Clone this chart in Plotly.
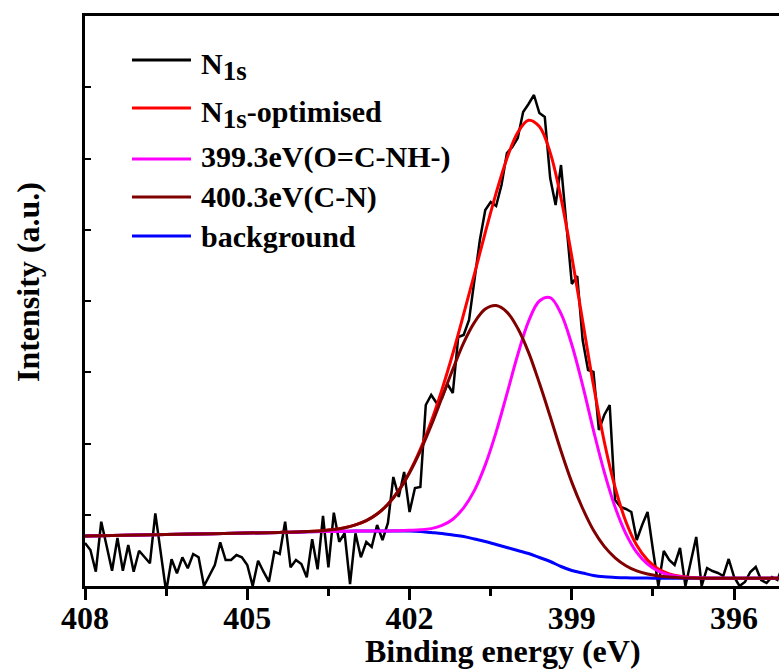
import plotly.graph_objects as go

# ---------------- data ----------------
energy = [
    408.0, 407.9, 407.8, 407.7, 407.6, 407.5, 407.4, 407.3, 407.2, 407.1,
    407.0, 406.9, 406.8, 406.7, 406.6, 406.5, 406.4, 406.3, 406.2, 406.1,
    406.0, 405.9, 405.8, 405.7, 405.6, 405.5, 405.4, 405.3, 405.2, 405.1,
    405.0, 404.9, 404.8, 404.7, 404.6, 404.5, 404.4, 404.3, 404.2, 404.1,
    404.0, 403.9, 403.8, 403.7, 403.6, 403.5, 403.4, 403.3, 403.2, 403.1,
    403.0, 402.9, 402.8, 402.7, 402.6, 402.5, 402.4, 402.3, 402.2, 402.1,
    402.0, 401.9, 401.8, 401.7, 401.6, 401.5, 401.4, 401.3, 401.2, 401.1,
    401.0, 400.9, 400.8, 400.7, 400.6, 400.5, 400.4, 400.3, 400.2, 400.1,
    400.0, 399.9, 399.8, 399.7, 399.6, 399.5, 399.4, 399.3, 399.2, 399.1,
    399.0, 398.9, 398.8, 398.7, 398.6, 398.5, 398.4, 398.3, 398.2, 398.1,
    398.0, 397.9, 397.8, 397.7, 397.6, 397.5, 397.4, 397.3, 397.2, 397.1,
    397.0, 396.9, 396.8, 396.7, 396.6, 396.5, 396.4, 396.3, 396.2, 396.1,
    396.0, 395.9, 395.8, 395.7, 395.6, 395.5, 395.4, 395.3, 395.2, 395.1,
]
n1s = [
    43, 36, 14.3, 64.3, 40, 15.3, 48, 15.3, 41, 14.3,
    35.3, 29, 22.7, 72.7, 34, -5.7, 26.7, 12.7, 28.7, 17.7,
    32, 28.7, 0, 11, 21, 43.7, 26, 26, 31, 28.7,
    21, 0, 25.3, 14.3, 4.3, 34.3, 32, 64.3, 18.7, 26,
    22, 8.7, 46.7, 16.7, 70, 18.7, 73.3, 44.3, 52.7, 2,
    52.7, 28.7, 44, 39, 61, 46, 63, 109, 89, 114,
    74, 98, 99, 181, 191, 183, 188, 202, 193, 249,
    251, 266, 306, 346, 376, 384, 380, 401, 433, 439,
    448, 474, 482, 491, 473, 469, 408, 381, 421, 361,
    302, 310, 246, 216, 214, 156, 171, 181, 86, 79,
    77, 74, 46, 61, 74, 36, 0, 35, 26, 21,
    38, 0, 24, 49, 0, 18, 15, 13, 10, 27,
    9, 0, 4, 14, 19, 6, 3, 9, 6, 20,
]

fit_energy = [408, 407, 406, 405, 404.4, 404, 403.6, 403.4, 403.2, 403.0,
              402.8, 402.6, 402.4, 402.2, 402.0, 401.8, 401.6, 401.4, 401.2, 401.0,
              400.8, 400.6, 400.4, 400.2, 400.0, 399.8, 399.6, 399.4, 399.2, 399.0,
              398.8, 398.6, 398.4, 398.2, 398.0, 397.8, 397.6, 397.4, 397.2, 397.0,
              396.8, 396.6, 396.0, 395.5, 395.0]
n1s_optimised = [50, 51, 52, 53, 53.6, 54.2, 55.3, 56.4, 58.2, 61.1,
                 65.4, 72.0, 81.8, 95.6, 113.9, 136.8, 164.4, 196.6, 232.5, 271.8,
                 312.2, 353.5, 392.8, 427.6, 453.5, 465.8, 459.4, 433.4, 387.9, 329.3,
                 265.1, 200.9, 144.3, 98.5, 64.3, 40.7, 25.9, 17.0, 12.2, 9.7,
                 8.6, 8.0, 7.7, 7.7, 7.7]
peak_399 = [50, 51, 52, 53, 53.6, 54, 54.4, 54.6, 54.8, 55,
            55, 55.0, 55.1, 55.3, 55.7, 56.2, 57.4, 60.6, 66.8, 78.2,
            95.6, 121.1, 153.9, 192.2, 231.3, 264.7, 285.0, 288.4, 272.4, 241.2,
            200.6, 155.7, 113.9, 78.9, 52.2, 33.6, 21.8, 14.8, 11.0, 9.2,
            8.3, 7.9, 7.7, 7.7, 7.7]
peak_400 = [50, 51, 52, 53, 53.6, 54.2, 55.3, 56.4, 58.2, 61.1,
            65.4, 72.0, 81.7, 95.3, 113.2, 135.1, 160.5, 188.5, 216.7, 243.1,
            263.6, 276.9, 280.4, 273.9, 257.7, 233.6, 202.9, 169.5, 135.0, 103.6,
            77.5, 55.7, 39.6, 28.2, 20.3, 15.1, 12.0, 10.0, 8.9, 8.3,
            8.0, 7.8, 7.7, 7.7, 7.7]
background = [50, 51, 52, 53, 53.6, 54, 54.4, 54.6, 54.8, 55,
              55, 55, 55, 55, 55, 54.5, 53.5, 52.5, 51, 49.5,
              47, 44.5, 41.5, 38.5, 35.5, 32.5, 28.5, 24.5, 19.5, 15.5,
              13, 10.5, 9.2, 8.6, 8.2, 8.0, 7.9, 7.8, 7.7, 7.7,
              7.7, 7.7, 7.7, 7.7, 7.7]

x_ticks = [408, 405, 402, 399, 396]
x_minor_ticks = [406.5, 403.5, 400.5, 397.5]
y_ticks = [0, 71.25, 142.5, 213.75, 285, 356.25, 427.5, 498.75, 570]

legend_names = ["N<sub><span style='font-size:27px'>1s</span></sub>",
                "N<sub><span style='font-size:27px'>1s</span></sub>-optimised",
                "399.3eV(O=C-NH-)", "400.3eV(C-N)", "background"]
legend_colors = ["#000000", "#FF0000", "#FF00FF", "#800000", "#0000FF"]

# ---------------- figure ----------------
FONT = "Liberation Serif"
fig = go.Figure()

fig.add_trace(go.Scatter(x=energy, y=n1s, mode="lines", name="N1s",
                         line=dict(color=legend_colors[0], width=2.5)))
fig.add_trace(go.Scatter(x=fit_energy, y=n1s_optimised, mode="lines", name="N1s-optimised",
                         line=dict(color=legend_colors[1], width=3, shape="spline")))
fig.add_trace(go.Scatter(x=fit_energy, y=background, mode="lines", name="background",
                         line=dict(color=legend_colors[4], width=3, shape="spline")))
fig.add_trace(go.Scatter(x=fit_energy, y=peak_399, mode="lines", name="399.3eV(O=C-NH-)",
                         line=dict(color=legend_colors[2], width=3, shape="spline")))
fig.add_trace(go.Scatter(x=fit_energy, y=peak_400, mode="lines", name="400.3eV(C-N)",
                         line=dict(color=legend_colors[3], width=3, shape="spline")))

fig.update_layout(
    width=779, height=670,
    margin=dict(l=85, r=0, t=16, b=84),
    paper_bgcolor="white", plot_bgcolor="white",
    showlegend=False,
)
fig.update_xaxes(
    range=[408, 395.17],
    tickvals=x_ticks, ticktext=[str(v) for v in x_ticks],
    ticks="outside", ticklen=11, tickwidth=3, tickcolor="black",
    ticklabelstandoff=-9,
    showline=True, linewidth=3, linecolor="black", mirror=True,
    showgrid=False, zeroline=False,
    tickfont=dict(family=FONT, size=32, color="black", weight="bold"),
    minor=dict(tickvals=x_minor_ticks, ticks="outside", ticklen=7,
               tickwidth=3, tickcolor="black", showgrid=False),
)
fig.update_yaxes(
    range=[0, 570],
    tickvals=y_ticks, showticklabels=False,
    ticks="inside", ticklen=6, tickwidth=2, tickcolor="black",
    showline=True, linewidth=3, linecolor="black", mirror=False,
    showgrid=False, zeroline=False,
)

# axis titles
fig.add_annotation(text="Binding energy (eV)", xref="paper", yref="paper",
                   x=0.6023, y=-0.114, xanchor="center", yanchor="middle",
                   showarrow=False,
                   font=dict(family=FONT, size=32, color="black", weight="bold"))
fig.add_annotation(text="Intensity (a.u.)", xref="paper", yref="paper",
                   x=-0.0821, y=0.5333, xanchor="center", yanchor="middle",
                   textangle=-90, showarrow=False,
                   font=dict(family=FONT, size=32, color="black", weight="bold"))

# legend drawn as line samples + text
row_y = [0.9228, 0.8386, 0.7491, 0.6825, 0.6140]
text_dy = [-0.012, -0.012, 0.003, 0.0, 0.0]
for name, color, yy, dy in zip(legend_names, legend_colors, row_y, text_dy):
    fig.add_shape(type="line", xref="paper", yref="paper",
                  x0=0.0677, x1=0.1527, y0=yy, y1=yy,
                  line=dict(color=color, width=2.8))
    fig.add_annotation(text=name, xref="paper", yref="paper",
                       x=0.1643, y=yy + dy, xanchor="left", yanchor="middle",
                       showarrow=False,
                       font=dict(family=FONT, size=30, color="black", weight="bold"))

fig.write_html("out.html")
